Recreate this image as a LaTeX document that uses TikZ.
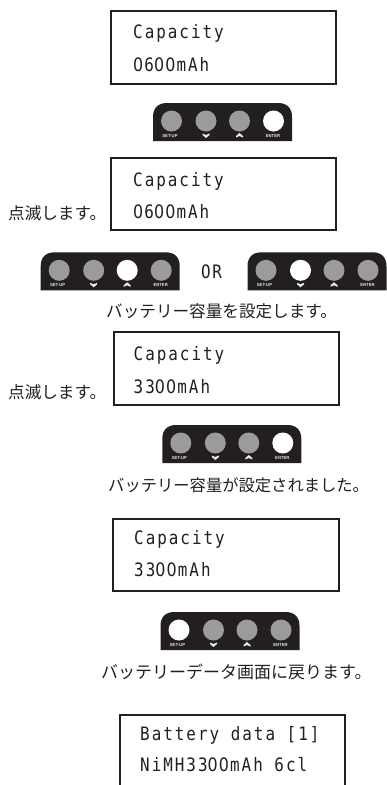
\documentclass[tikz,border=0pt]{standalone}
\usepackage{fontspec}
\setmainfont{Liberation Sans}
\newfontfamily\lcdfont[FakeStretch=0.86,LetterSpace=10.8]{DejaVu Sans Mono}
\newfontfamily\zfont[FakeStretch=0.86]{DejaVu Sans}
\newcommand{\Z}{\makebox[11.25pt][l]{\zfont 0}}
\newfontfamily\jpfont{Noto Sans CJK JP}
\newfontfamily\lblfont[FakeStretch=0.95]{Liberation Sans}
\definecolor{panelk}{HTML}{231F20}
\definecolor{btngray}{HTML}{9B9B9D}
\tikzset{
 lcdbox/.style={draw=panelk,line width=2pt},
 lcdtxt/.style={anchor=west,inner sep=0pt,text=panelk,font=\lcdfont\fontsize{18.5}{20}\selectfont},
 jptxt/.style={inner sep=0pt,text=panelk,font=\jpfont\fontsize{16.6}{18}\selectfont},
 lbl/.style={inner sep=0pt,text=white!90!black,font=\lblfont\bfseries\fontsize{4.4}{5}\selectfont},
}
\newcommand{\keypanel}[4]{%
 \begin{scope}[shift={(#1,#2)}]
  \fill[panelk] (0,38) -- (0,14) .. controls (0,5) and (5,0) .. (14,0) -- (125,0) .. controls (134,0) and (139,5) .. (139,14) -- (139,38) -- cycle;
  \foreach \i/\cx in {1/18.5,2/53,3/86.5,4/120.5}{
    \ifnum\i=#3 \def\bc{white}\else\def\bc{btngray}\fi
    \node[circle,fill=\bc,minimum size=21pt,inner sep=0pt] (#4b\i) at (\cx,18) {};
  }
  \node[lbl] (#4s) at (17,33) {SET-UP};
  \fill[white!92!black] (49.5,30.5) -- (53,32) -- (56.5,30.5) -- (56.5,32) -- (53,35) -- (49.5,32) -- cycle;
  \fill[white!92!black] (83,33) -- (86.5,30) -- (90,33) -- (90,34.5) -- (86.5,33) -- (83,34.5) -- cycle;
  \node[lbl] (#4e) at (120,33) {ENTER};
 \end{scope}}
\begin{document}
\begin{tikzpicture}[x=1pt,y=-1pt]
\useasboundingbox (0,0) rectangle (386,785);
\fill[white] (0,0) rectangle (386,785);
% LCD 1
\draw[lcdbox] (110.5,11) rectangle (336,84);
\node[lcdtxt] (a1) at (133,33) {Capacity};
\node[lcdtxt] (a2) at (133,65) {\Z6\Z\Z mAh};
\keypanel{153}{103}{4}{p}
% LCD 2
\draw[lcdbox] (110.5,157.7) rectangle (336,230);
\node[lcdtxt] (b1) at (133,181) {Capacity};
\node[lcdtxt] (b2) at (133,212) {\Z6\Z\Z mAh};
\node[jptxt,anchor=west] (b3) at (8,213) {点滅します。};
\keypanel{40.7}{252.3}{3}{q}
\node[lcdtxt] (or) at (201,272) {\makebox[11.25pt][l]{O}R};
\keypanel{247.5}{252.3}{2}{r}
\node[jptxt,anchor=west] (j1) at (106,311) {バッテリー容量を設定します。};
% LCD 3
\draw[lcdbox] (113.5,332) rectangle (339,405);
\node[lcdtxt] (c1) at (133.5,355) {Capacity};
\node[lcdtxt] (c2) at (133.5,387) {33\Z\Z mAh};
\node[jptxt,anchor=west] (c3) at (8,392) {点滅します。};
\keypanel{162.3}{425}{4}{s}
\node[jptxt,anchor=west,font=\jpfont\fontsize{16.3}{18}\selectfont] (j2) at (108,485) {バッテリー容量が設定されました。};
% LCD 4
\draw[lcdbox] (113,518.5) rectangle (339,591);
\node[lcdtxt] (d1) at (134,539) {Capacity};
\node[lcdtxt] (d2) at (134,570) {33\Z\Z mAh};
\keypanel{160.5}{612}{1}{t}
\node[jptxt,anchor=west,font=\jpfont\fontsize{17}{18}\selectfont] (j3) at (101,672) {バッテリーデータ画面に戻ります。};
% LCD 5
\draw[lcdbox] (120,790) -- (120,715) -- (345,715) -- (345,790);
\node[lcdtxt] (e1) at (140,735) {Battery data [1]};
\node[lcdtxt] (e2) at (140,765) {NiMH33\Z\Z mAh 6cl};
\end{tikzpicture}
\end{document}
